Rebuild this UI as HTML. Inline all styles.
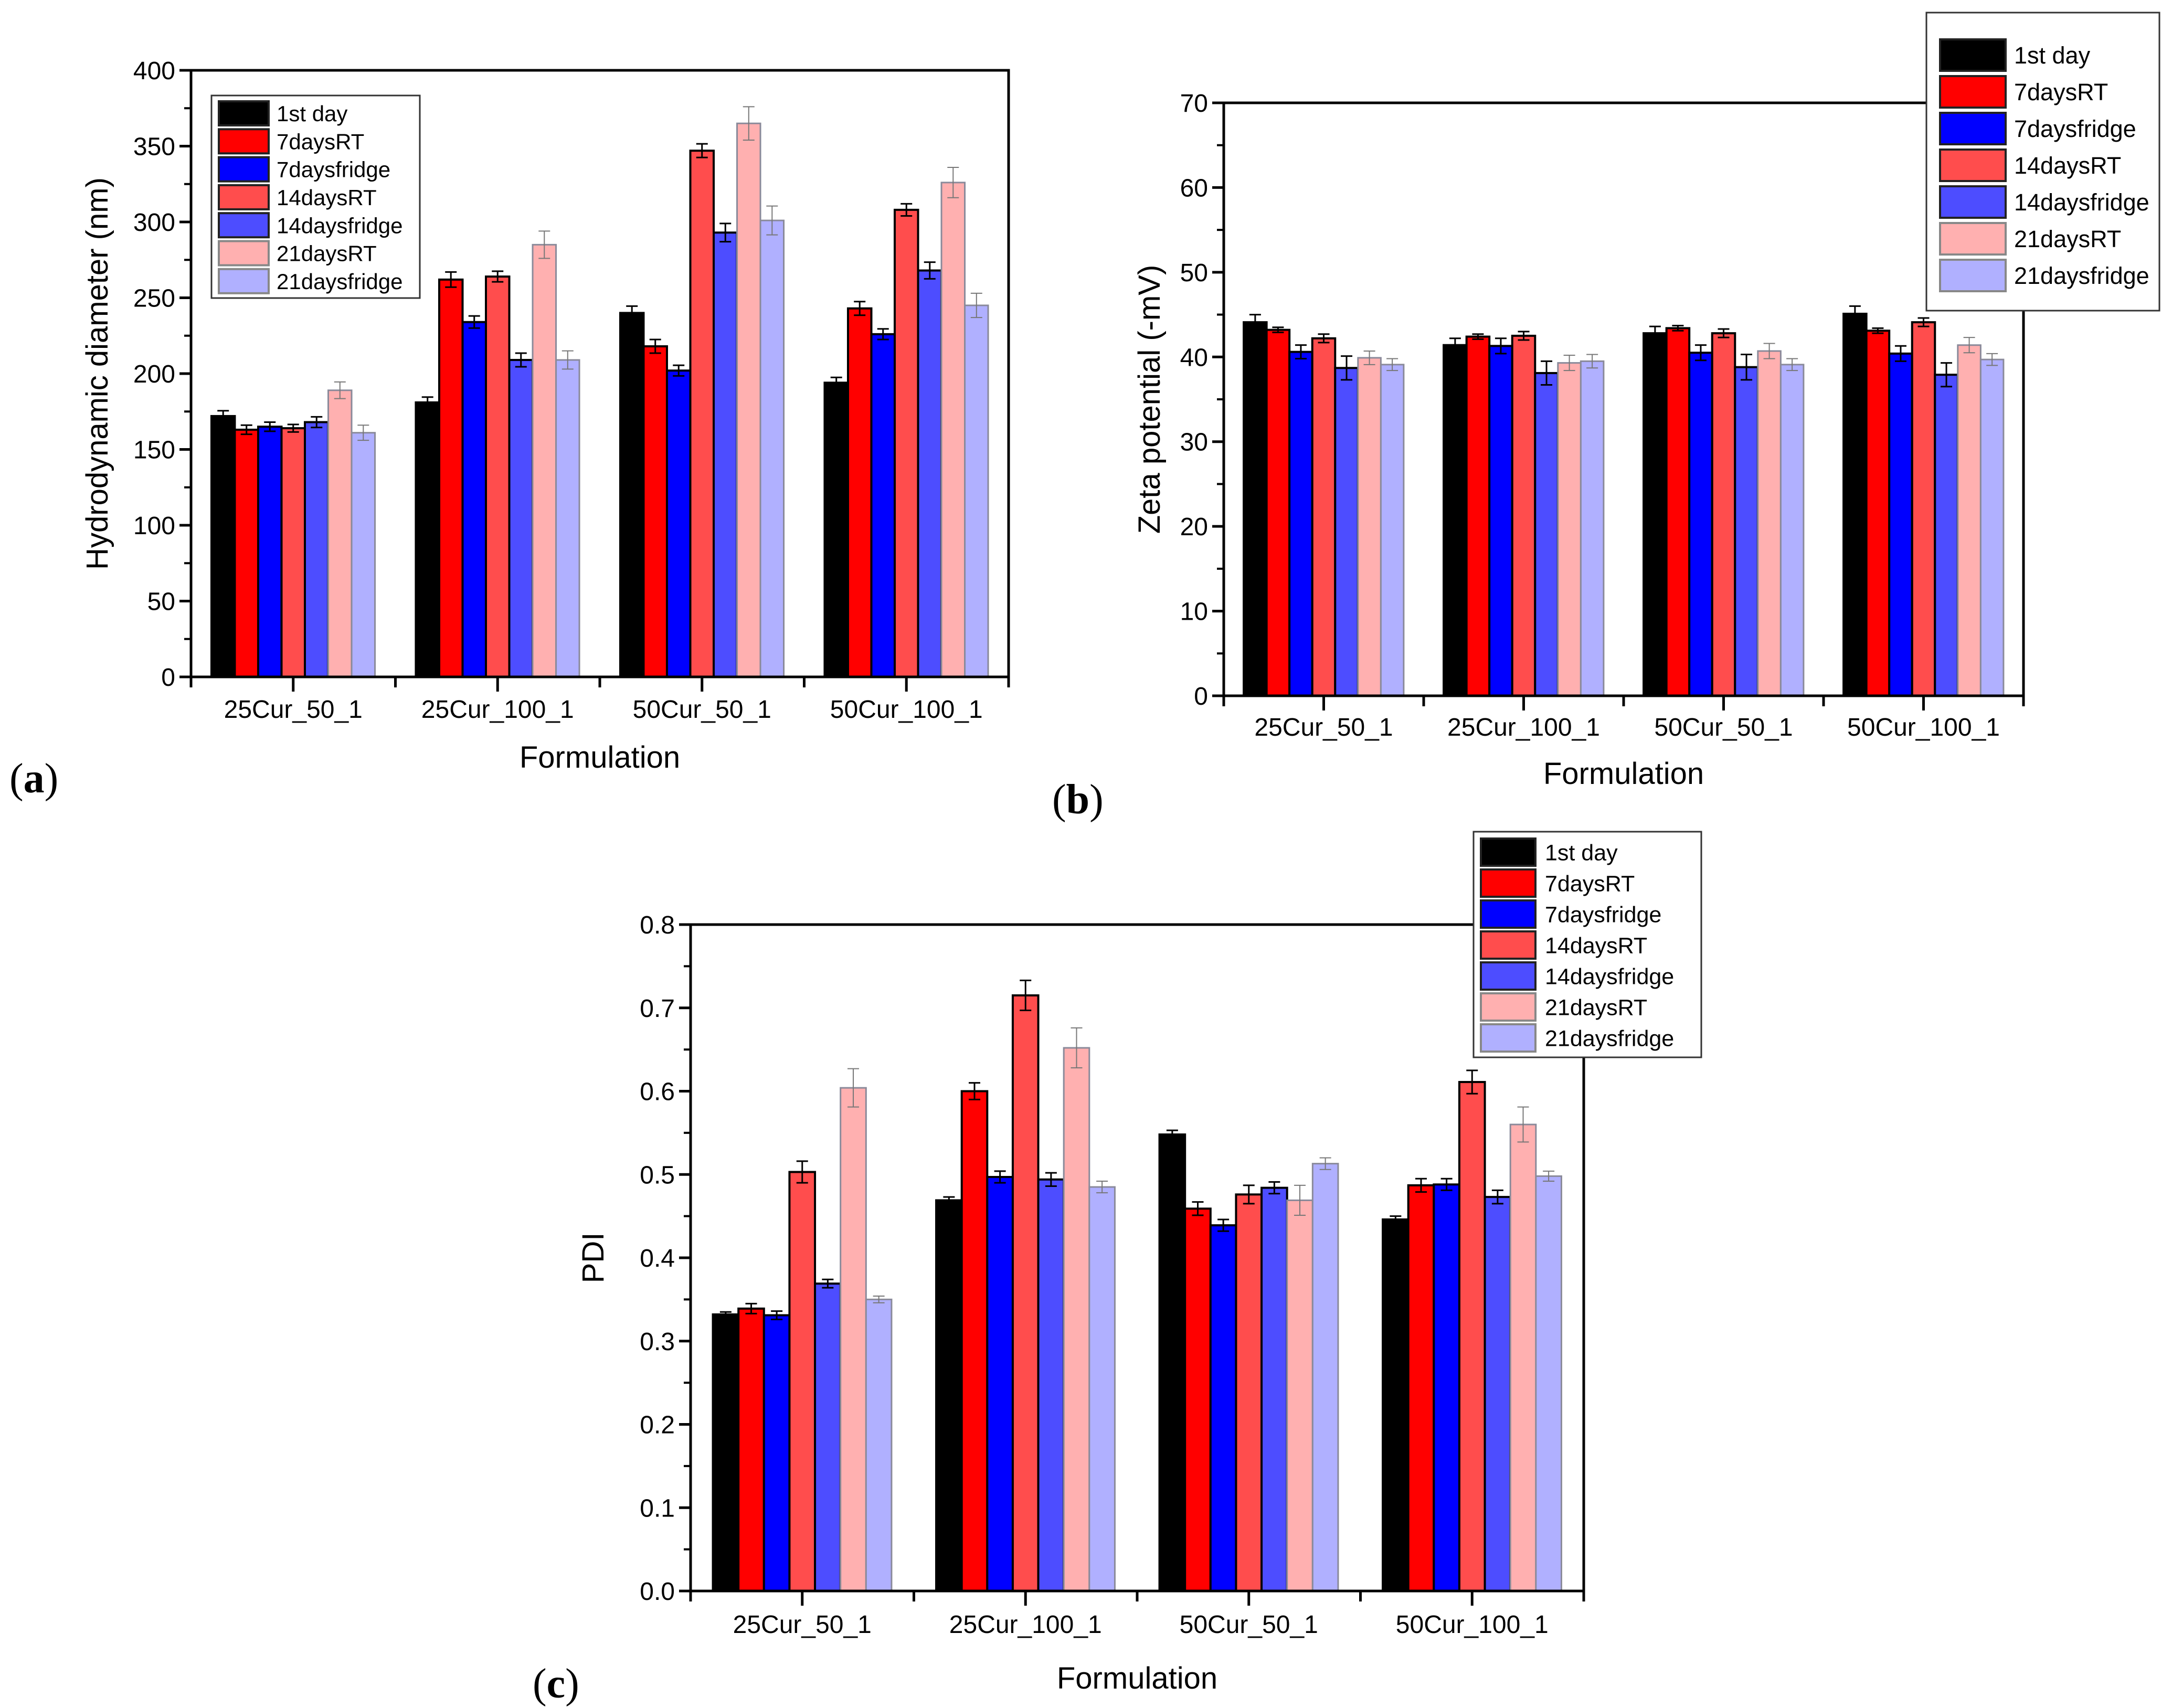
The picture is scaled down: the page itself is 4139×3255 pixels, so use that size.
<!DOCTYPE html>
<html><head><meta charset="utf-8"><style>
html,body{margin:0;padding:0;background:#fff}
svg{display:block}
text{font-family:"Liberation Sans",sans-serif}
</style></head><body>
<svg id="fig" width="4139" height="3255" viewBox="0 0 4139 3255" xmlns="http://www.w3.org/2000/svg"></svg>
<script>
const categories=["25Cur_50_1","25Cur_100_1","50Cur_50_1","50Cur_100_1"];
const seriesNames=["1st day","7daysRT","7daysfridge","14daysRT","14daysfridge","21daysRT","21daysfridge"];
const seriesColors=["#000000","#ff0000","#0000ff","#ff4d4d","#4d4dff","#ffb0b0","#b0b0ff"];
// Chart a: hydrodynamic diameter
const aDay1=[172,181,240,194];
const a7RT=[163,262,218,243];
const a7F=[165,234,202,226];
const a14RT=[164,264,347,308];
const a14F=[168,209,293,268];
const a21RT=[189,285,365,326];
const a21F=[161,209,301,245];
const aErr=[[3.5,3.5,4.5,3.5],[3,5,4.5,4.5],[3,4,3.5,3.5],[2.5,3.5,4.5,4],[3.5,4.5,6,5.5],[5.5,9,11,10],[5,6,9.5,8]];
const aTicks=[0,50,100,150,200,250,300,350,400];
// Chart b: zeta potential
const bDay1=[44.1,41.4,42.8,45.1];
const b7RT=[43.2,42.4,43.4,43.1];
const b7F=[40.6,41.3,40.5,40.4];
const b14RT=[42.2,42.5,42.8,44.1];
const b14F=[38.7,38.1,38.8,37.9];
const b21RT=[39.9,39.3,40.7,41.4];
const b21F=[39.1,39.5,39.1,39.7];
const bErr=[[0.9,0.8,0.8,0.9],[0.3,0.3,0.3,0.3],[0.8,0.9,0.9,0.9],[0.5,0.5,0.5,0.5],[1.4,1.4,1.5,1.4],[0.8,0.9,0.9,0.9],[0.7,0.8,0.7,0.7]];
const bTicks=[0,10,20,30,40,50,60,70];
// Chart c: PDI
const cDay1=[0.332,0.469,0.548,0.446];
const c7RT=[0.339,0.600,0.459,0.487];
const c7F=[0.331,0.497,0.439,0.488];
const c14RT=[0.503,0.715,0.476,0.611];
const c14F=[0.369,0.494,0.484,0.473];
const c21RT=[0.604,0.652,0.469,0.560];
const c21F=[0.350,0.485,0.513,0.498];
const cErr=[[0.003,0.004,0.005,0.004],[0.006,0.01,0.008,0.008],[0.005,0.007,0.007,0.007],[0.013,0.018,0.011,0.014],[0.005,0.008,0.007,0.008],[0.023,0.024,0.018,0.021],[0.004,0.007,0.007,0.006]];
const cTicks=["0.0","0.1","0.2","0.3","0.4","0.5","0.6","0.7","0.8"];

const NS="http://www.w3.org/2000/svg";
const svg=document.getElementById('fig');
function el(tag,attrs,parent){const e=document.createElementNS(NS,tag);for(const k in attrs)e.setAttribute(k,attrs[k]);(parent||svg).appendChild(e);return e;}

function chart(c){
  const g=el('g',{});
  
  
  const ymax=c.ymax;
  const Y=v=>c.bottom-(v/ymax)*(c.bottom-c.top);
  const catW=(c.right-c.left)/categories.length;
  const barW=catW*0.8/7;
  const X=(ci,si)=>c.left+catW*ci+catW*0.1+barW*si;
  c.series.forEach((vals,si)=>{
    vals.forEach((v,ci)=>{
      const light=si>=5;
      const r=el('rect',{x:X(ci,si),y:Y(v),width:barW,height:c.bottom-Y(v),fill:seriesColors[si],stroke:light?'#8a8a9a':'#000','stroke-width':light?3:4},g);
      
      
      const e=c.err[si][ci];const cx=X(ci,si)+barW/2;const col=light?'#777':'#000';const sw=light?2:3;
      el('line',{x1:cx,x2:cx,y1:Y(v+e),y2:Y(v-e),stroke:col,'stroke-width':sw},g);
      el('line',{x1:cx-11,x2:cx+11,y1:Y(v+e),y2:Y(v+e),stroke:col,'stroke-width':sw},g);
      el('line',{x1:cx-11,x2:cx+11,y1:Y(v-e),y2:Y(v-e),stroke:col,'stroke-width':sw},g);
    });
  });
  const ax=el('path',{d:`M${c.left},${c.top}H${c.right}V${c.bottom}H${c.left}Z`,fill:'none',stroke:'#000','stroke-width':5},g);
  
  
  c.ticks.forEach((t,i)=>{
    const v=parseFloat(t);const y=Y(v);
    el('line',{x1:c.left-22,x2:c.left,y1:y,y2:y,stroke:'#000','stroke-width':5},g);
    if(i<c.ticks.length-1){const ym=Y(v+(parseFloat(c.ticks[1])-parseFloat(c.ticks[0]))/2);el('line',{x1:c.left-13,x2:c.left,y1:ym,y2:ym,stroke:'#000','stroke-width':4},g);}
    const tx=el('text',{x:c.left-30,y:y+17,'text-anchor':'end','font-size':c.tfs,fill:'#000'},g);
    tx.textContent=t;
    
    
  });
  for(let i=0;i<=categories.length;i++){const x=c.left+catW*i;el('line',{x1:x,x2:x,y1:c.bottom,y2:c.bottom+20,stroke:'#000','stroke-width':5},g);}
  categories.forEach((cat,i)=>{
    const x=c.left+catW*(i+0.5);
    el('line',{x1:x,x2:x,y1:c.bottom,y2:c.bottom+28,stroke:'#000','stroke-width':5},g);
    const tx=el('text',{x:x,y:c.xly,'text-anchor':'middle','font-size':c.tfs,fill:'#000'},g);
    tx.textContent=cat;
    
    
  });
  const xt=el('text',{x:(c.left+c.right)/2,y:c.xty,'text-anchor':'middle','font-size':c.afs,fill:'#000'},g);
  xt.textContent='Formulation';
  
  
  const yt=el('text',{x:0,y:0,'text-anchor':'middle','font-size':c.afs,fill:'#000',transform:`translate(${c.ytx},${(c.top+c.bottom)/2}) rotate(-90)`},g);
  yt.textContent=c.ytitle;
  
  
  const L=c.leg;
  const lg=el('g',{},g);
  
  
  el('rect',{x:L.x,y:L.y,width:L.w,height:L.h,fill:'#fff',stroke:'#333','stroke-width':3},lg);
  seriesNames.forEach((n,si)=>{
    const cy=L.y0+L.dy*si;const light=si>=5;
    const sw=el('rect',{x:L.sx,y:cy-L.sh/2,width:L.sw,height:L.sh,fill:seriesColors[si],stroke:light?'#888':'#222','stroke-width':4},lg);
    
    
    const t=el('text',{x:L.tx,y:cy+L.fs*0.36,'font-size':L.fs,fill:'#000'},lg);
    t.textContent=n;
    
    
  });
  const pl=el('text',{x:c.plx,y:c.ply,'font-size':80,fill:'#000',style:'font-family:"Liberation Serif",serif'},g);
  pl.innerHTML='(<tspan font-weight="bold">'+c.plabel+'</tspan>)';
  
  
}

chart({id:'a',left:364,right:1922,top:134,bottom:1290,ymax:400,ticks:aTicks.map(String),
  series:[aDay1,a7RT,a7F,a14RT,a14F,a21RT,a21F],err:aErr,tfs:48,afs:58,xly:1368,xty:1463,ytx:205,
  ytitle:'Hydrodynamic diameter (nm)',plabel:'a',plx:18,ply:1510,
  leg:{x:403,y:182,w:397,h:386,sx:417,sw:95,sh:46,y0:216,dy:53.3,tx:527,fs:42}});
chart({id:'b',left:2332,right:3856,top:196,bottom:1326,ymax:70,ticks:bTicks.map(String),
  series:[bDay1,b7RT,b7F,b14RT,b14F,b21RT,b21F],err:bErr,tfs:48,afs:58,xly:1402,xty:1494,ytx:2210,
  ytitle:'Zeta potential (-mV)',plabel:'b',plx:2005,ply:1550,
  leg:{x:3671,y:24,w:444,h:568,sx:3697,sw:125,sh:60,y0:105,dy:70,tx:3838,fs:45}});
chart({id:'c',left:1316,right:3018,top:1762,bottom:3032,ymax:0.8,ticks:cTicks,
  series:[cDay1,c7RT,c7F,c14RT,c14F,c21RT,c21F],err:cErr,tfs:48,afs:58,xly:3112,xty:3218,ytx:1150,
  ytitle:'PDI',plabel:'c',plx:1015,ply:3235,
  leg:{x:2808,y:1585,w:434,h:430,sx:2822,sw:104,sh:52,y0:1624,dy:59,tx:2944,fs:43}});
</script>
</body></html>
